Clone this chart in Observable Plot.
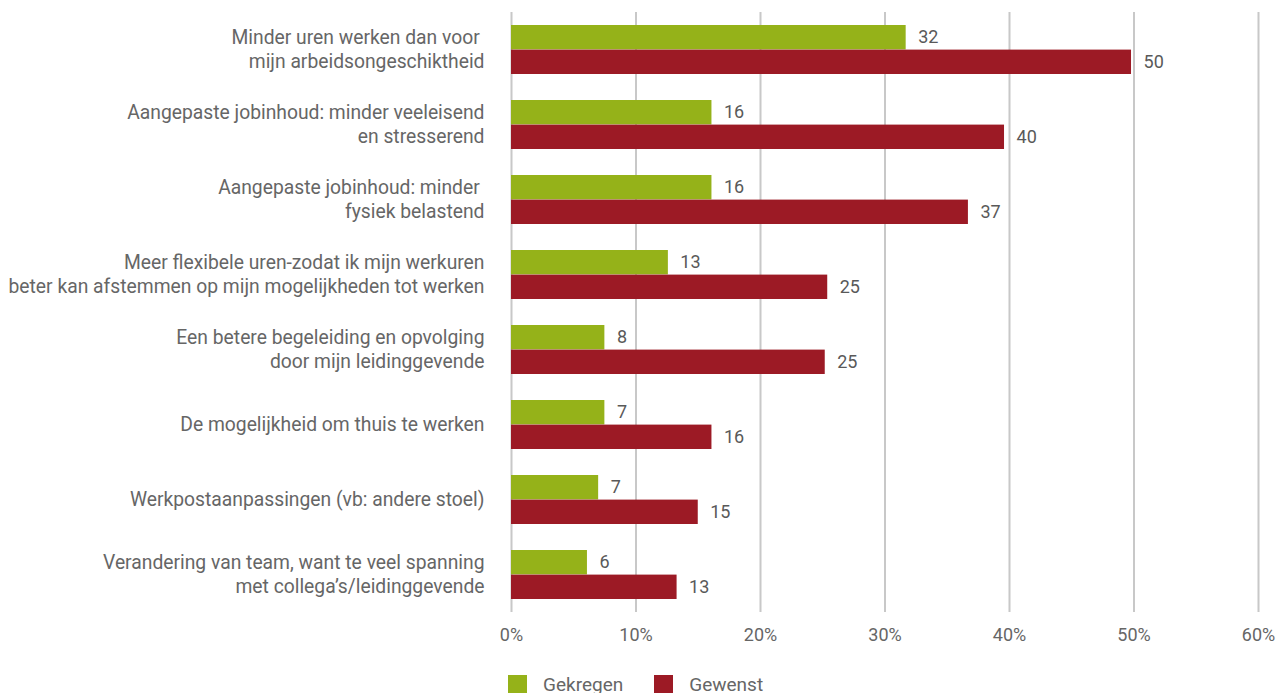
<!DOCTYPE html>
<html><head><meta charset="utf-8">
<script src="https://cdn.jsdelivr.net/npm/d3@7"></script>
<script src="https://cdn.jsdelivr.net/npm/@observablehq/plot@0.6"></script>
<style>
body{margin:0;background:#fff;font-family:Roboto,"Liberation Sans",sans-serif;}
#legend{display:flex;gap:0;margin-left:508px;margin-top:15px;font-size:19px;color:#666;align-items:center;height:18px}
#legend span.sw{display:inline-block;width:19px;height:18px;margin-right:16px}
#legend .item{display:flex;align-items:center;margin-right:31px}
</style></head><body>
<div id="chart"></div>
<div id="legend"></div>
<script>
const categories = [
  "Minder uren werken dan voor \nmijn arbeidsongeschiktheid",
  "Aangepaste jobinhoud: minder veeleisend\nen stresserend",
  "Aangepaste jobinhoud: minder \nfysiek belastend",
  "Meer flexibele uren-zodat ik mijn werkuren\nbeter kan afstemmen op mijn mogelijkheden tot werken",
  "Een betere begeleiding en opvolging\ndoor mijn leidinggevende",
  "De mogelijkheid om thuis te werken",
  "Werkpostaanpassingen (vb: andere stoel)",
  "Verandering van team, want te veel spanning\nmet collega\u2019s/leidinggevende"
];
const gekregen = [31.7, 16.1, 16.1, 12.6, 7.5, 7.5, 7.0, 6.1];
const gewenst = [49.8, 39.6, 36.7, 25.4, 25.2, 16.1, 15.0, 13.3];
const gekregenLabels = ["32", "16", "16", "13", "8", "7", "7", "6"];
const gewenstLabels = ["50", "40", "37", "25", "25", "16", "15", "13"];
const seriesNames = ["Gekregen", "Gewenst"];
const colors = ["#95b219", "#9c1a25"];
const xTicks = [0, 10, 20, 30, 40, 50, 60];

const green = categories.map((c, i) => ({cat: c, v: gekregen[i], label: gekregenLabels[i]}));
const red = categories.map((c, i) => ({cat: c, v: gewenst[i], label: gewenstLabels[i]}));

const W = 1279, H = 660;
const chart = Plot.plot({
  width: W, height: H,
  marginLeft: 511, marginRight: 21, marginTop: 12, marginBottom: 48,
  style: {fontFamily: "Roboto, 'Liberation Sans', sans-serif", fontSize: "18px", color: "#666", background: "#fff"},
  x: {domain: [0, 60], ticks: xTicks, label: null},
  y: {domain: categories, paddingInner: 0.34, paddingOuter: 0.17, align: 0.5, label: null},
  marks: [
    Plot.gridX(xTicks, {stroke: "#c8c8c8", strokeOpacity: 1, strokeWidth: 2}),
    Plot.barX(green, {y: "cat", x: "v", fill: colors[0], insetBottom: 24.6}),
    Plot.barX(red, {y: "cat", x: "v", fill: colors[1], insetTop: 24.6}),
    Plot.text(green, {y: "cat", x: "v", text: "label", dx: 12, dy: -13, textAnchor: "start", fill: "#595959", fontSize: 18}),
    Plot.text(red, {y: "cat", x: "v", text: "label", dx: 12, dy: 12, textAnchor: "start", fill: "#595959", fontSize: 18}),
    Plot.axisX(xTicks, {tickSize: 0, tickPadding: 16, tickFormat: d => d + "%", fill: "#666", fontSize: 18, label: null}),
    Plot.axisY({tickSize: 0, tickPadding: 27, lineHeight: 1.26, dy: -2, fill: "#666", fontSize: 19.3, textAnchor: "end", label: null})
  ]
});
document.getElementById("chart").appendChild(chart);

const leg = document.getElementById("legend");
seriesNames.forEach((n, i) => {
  const it = document.createElement("div");
  it.className = "item";
  it.innerHTML = `<span class="sw" style="background:${colors[i]}"></span>${n}`;
  leg.appendChild(it);
});
</script>
</body></html>
